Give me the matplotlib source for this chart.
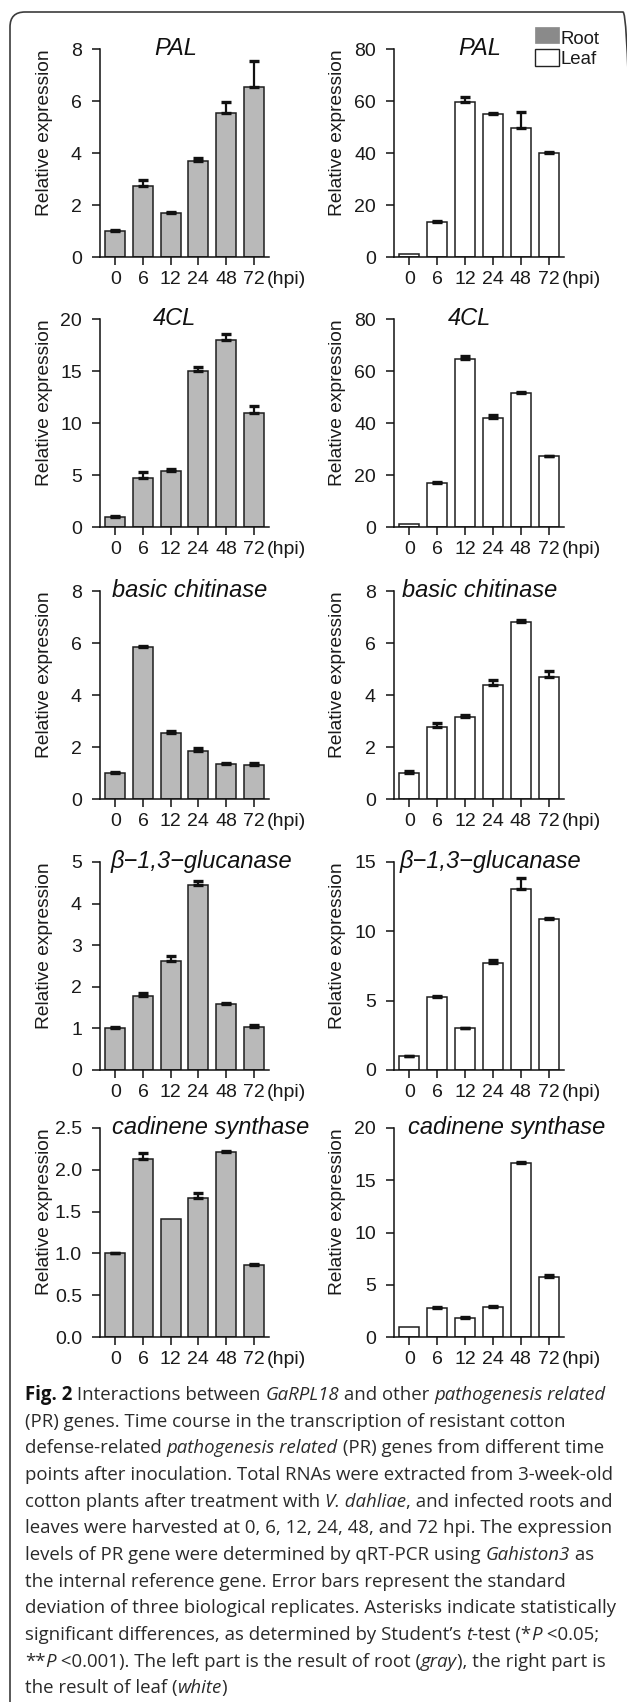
import matplotlib
matplotlib.use('Agg')
import matplotlib.pyplot as plt
import numpy as np
from matplotlib.patches import Rectangle, FancyBboxPatch
from matplotlib.font_manager import FontProperties
from matplotlib.transforms import IdentityTransform

# ---------------- data ----------------
times = ['0', '6', '12', '24', '48', '72']
genes = ['PAL', '4CL', 'basic chitinase', 'β−1,3−glucanase', 'cadinene synthase']

root_pal = [1.0, 2.73, 1.68, 3.70, 5.54, 6.53]
root_pal_err = [0.03, 0.23, 0.05, 0.10, 0.42, 1.00]
leaf_pal = [1.0, 13.5, 59.7, 54.9, 49.5, 40.0]
leaf_pal_err = [0.0, 0.5, 1.8, 0.4, 6.3, 0.5]

root_4cl = [1.0, 4.71, 5.35, 15.0, 17.94, 10.92]
root_4cl_err = [0.10, 0.60, 0.22, 0.38, 0.60, 0.72]
leaf_4cl = [1.0, 17.1, 64.6, 42.1, 51.7, 27.2]
leaf_4cl_err = [0.0, 0.4, 1.3, 0.8, 0.4, 0.3]

root_chit = [1.0, 5.83, 2.54, 1.85, 1.35, 1.32]
root_chit_err = [0.03, 0.04, 0.07, 0.13, 0.04, 0.08]
leaf_chit = [1.0, 2.78, 3.17, 4.38, 6.79, 4.69]
leaf_chit_err = [0.06, 0.14, 0.05, 0.20, 0.09, 0.24]

root_glu = [1.0, 1.77, 2.61, 4.45, 1.59, 1.04]
root_glu_err = [0.04, 0.07, 0.12, 0.09, 0.02, 0.05]
leaf_glu = [1.0, 5.27, 3.0, 7.72, 13.07, 10.91]
leaf_glu_err = [0.03, 0.07, 0.05, 0.24, 0.80, 0.05]

root_cad = [1.0, 2.13, 1.41, 1.66, 2.21, 0.865]
root_cad_err = [0.01, 0.07, 0.0, 0.06, 0.02, 0.01]
leaf_cad = [1.0, 2.74, 1.79, 2.87, 16.62, 5.77]
leaf_cad_err = [0.0, 0.10, 0.09, 0.09, 0.10, 0.15]

root_ymax = [8, 20, 8, 5, 2.5]
root_ystep = [2, 5, 2, 1, 0.5]
leaf_ymax = [80, 80, 8, 15, 20]
leaf_ystep = [20, 20, 2, 5, 5]

legend_labels = ['Root', 'Leaf']

root_means = [root_pal, root_4cl, root_chit, root_glu, root_cad]
root_errs = [root_pal_err, root_4cl_err, root_chit_err, root_glu_err, root_cad_err]
leaf_means = [leaf_pal, leaf_4cl, leaf_chit, leaf_glu, leaf_cad]
leaf_errs = [leaf_pal_err, leaf_4cl_err, leaf_chit_err, leaf_glu_err, leaf_cad_err]

caption_lines = [
    [('Fig. 2', 'b'), (' Interactions between ', 'n'), ('GaRPL18', 'i'), (' and other ', 'n'), ('pathogenesis related', 'i')],
    [('(PR) genes. Time course in the transcription of resistant cotton', 'n')],
    [('defense-related ', 'n'), ('pathogenesis related', 'i'), (' (PR) genes from different time', 'n')],
    [('points after inoculation. Total RNAs were extracted from 3-week-old', 'n')],
    [('cotton plants after treatment with ', 'n'), ('V. dahliae', 'i'), (', and infected roots and', 'n')],
    [('leaves were harvested at 0, 6, 12, 24, 48, and 72 hpi. The expression', 'n')],
    [('levels of PR gene were determined by qRT-PCR using ', 'n'), ('Gahiston3', 'i'), (' as', 'n')],
    [('the internal reference gene. Error bars represent the standard', 'n')],
    [('deviation of three biological replicates. Asterisks indicate statistically', 'n')],
    [('significant differences, as determined by Student’s ', 'n'), ('t', 'i'), ('-test (*', 'n'), ('P', 'i'), (' <0.05;', 'n')],
    [('**', 'n'), ('P', 'i'), (' <0.001). The left part is the result of root (', 'n'), ('gray', 'i'), ('), the right part is', 'n')],
    [('the result of leaf (', 'n'), ('white', 'i'), (')', 'n')],
]

# ---------------- layout ----------------
W, H = 627, 1702
fig = plt.figure(figsize=(W / 100, H / 100), dpi=100)
plt.rcParams['font.family'] = ['Liberation Sans', 'DejaVu Sans']

def fx(x):
    return x / W

def fy(y):
    return 1 - y / H

rows = [(49, 257), (319, 527), (591, 799), (862, 1070), (1128, 1337)]
cols = [(100, 269), (394, 564)]
ylabel_x = [45, 338]
title_x = [[154, 153, 112, 111, 112], [458, 448, 402, 400, 408]]

TXT = '#1a1a1a'
BAR_GREY = '#b9b9b9'
EDGE = '#1e1e1e'
x = np.arange(len(times))

def fmt_tick(v, step):
    if step < 1:
        return f'{v:.1f}'
    return f'{int(round(v))}'

for r, (top, bot) in enumerate(rows):
    for c, (left, right) in enumerate(cols):
        ax = fig.add_axes([fx(left), fy(bot), fx(right) - fx(left), fy(top) - fy(bot)])
        if c == 0:
            means, errs, ymax, step, color = root_means[r], root_errs[r], root_ymax[r], root_ystep[r], BAR_GREY
        else:
            means, errs, ymax, step, color = leaf_means[r], leaf_errs[r], leaf_ymax[r], leaf_ystep[r], 'white'
        ax.bar(x, means, width=0.72, color=color, edgecolor=EDGE, linewidth=1.1, zorder=2)
        errs = np.asarray(errs)
        m = errs > 0
        ax.errorbar(x[m], np.asarray(means)[m], yerr=[np.zeros(m.sum()), errs[m]], fmt='none',
                    ecolor='#111111', elinewidth=1.6, capsize=3.3, capthick=2.4, zorder=3)
        ax.set_xlim(-0.55, 5.55)
        ax.set_ylim(0, ymax)
        yt = np.arange(0, ymax + step / 2, step)
        ax.set_yticks(yt)
        ax.set_yticklabels([fmt_tick(v, step) for v in yt])
        ax.set_xticks(x)
        ax.set_xticklabels(times)
        for s in ['top', 'right']:
            ax.spines[s].set_visible(False)
        for s in ['left', 'bottom']:
            ax.spines[s].set_linewidth(1.1)
            ax.spines[s].set_color('#111111')
        ax.tick_params(axis='y', direction='out', length=5.5, width=1.1, pad=7.5,
                       labelsize=14, colors='#111111', labelcolor=TXT)
        ax.tick_params(axis='x', direction='out', length=5.8, width=1.1, pad=4,
                       labelsize=14, colors='#111111', labelcolor=TXT)
        ax.set_facecolor('none')
        ax.annotate('(hpi)', xy=(5, 0), xycoords=('data', 'axes fraction'),
                    xytext=(9.4, -10.2), textcoords='offset points',
                    ha='left', va='top', fontsize=14, color=TXT)
        # y label, top-aligned with the axes
        fig.text(fx(ylabel_x[c]), fy(top), 'Relative expression', rotation=90,
                 ha='center', va='top', fontsize=13.8, color=TXT)
        # gene title
        fig.text(fx(title_x[c][r]), fy(top + 6), genes[r], style='italic',
                 ha='left', va='baseline', fontsize=17, color='#111111')

# legend (top right)
fig.add_artist(Rectangle((fx(535), fy(43)), fx(24), 16 / H, transform=fig.transFigure,
                         facecolor='#8a8a8a', edgecolor='#8a8a8a', linewidth=0.5))
fig.add_artist(Rectangle((fx(535), fy(66)), fx(24), 17 / H, transform=fig.transFigure,
                         facecolor='white', edgecolor='#222222', linewidth=1.0))
fig.text(fx(561), fy(44), legend_labels[0], ha='left', va='baseline', fontsize=13.4, color=TXT)
fig.text(fx(561), fy(63.5), legend_labels[1], ha='left', va='baseline', fontsize=13.4, color=TXT)

# frame
frame = FancyBboxPatch((10, -30), 628, H - 12 + 30, boxstyle='round,pad=0,rounding_size=15',
                       transform=IdentityTransform(), facecolor='none', edgecolor='#3c3c3c',
                       linewidth=1.2)
fig.add_artist(frame)

# caption
renderer = fig.canvas.get_renderer()

def props(style, size):
    if style == 'b':
        return FontProperties(family='Open Sans', weight='bold', size=size)
    if style == 'i':
        return FontProperties(family='Open Sans', style='italic', size=size)
    return FontProperties(family='Open Sans', size=size)

def seg_width(txt, fp):
    w1, _, _ = renderer.get_text_width_height_descent('|' + txt + '|', fp, ismath=False)
    w2, _, _ = renderer.get_text_width_height_descent('||', fp, ismath=False)
    return w1 - w2

def line_width(line, size):
    return sum(seg_width(t, props(s, size)) for t, s in line)

base = 12.0
target = 610 - 25
cap_size = base * target / line_width(caption_lines[4], base)

y0 = 1400
pitch = 26.67
for i, line in enumerate(caption_lines):
    xx = 25
    for t, s in line:
        fp = props(s, cap_size)
        col = '#111111' if s == 'b' else '#2a2a2a'
        fig.text(fx(xx), fy(y0 + i * pitch), t, fontproperties=fp, ha='left', va='baseline', color=col)
        xx += seg_width(t, fp)

fig.savefig('out.png', dpi=100, facecolor='white')
